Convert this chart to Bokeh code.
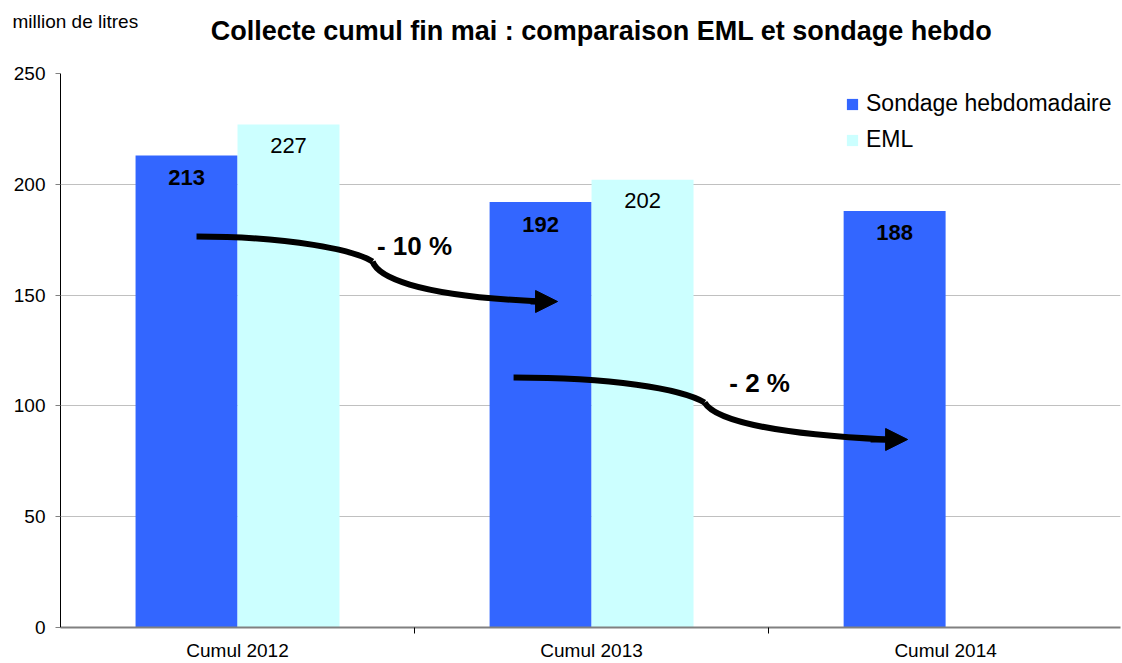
from bokeh.plotting import figure
from bokeh.layouts import column
from bokeh.models import (Range1d, FixedTicker, Legend, LegendItem, Label, Arrow,
                          NormalHead, ColumnDataSource)
from bokeh.core.properties import value
from bokeh.embed import file_html
from bokeh.resources import INLINE

# ---------------- data ----------------
categories = ["Cumul 2012", "Cumul 2013", "Cumul 2014"]
sondage = [213, 192, 188]
eml = [227, 202, None]
y_ticks = [0, 50, 100, 150, 200, 250]
title_text = "Collecte cumul fin mai : comparaison EML et sondage hebdo"
unit_text = "million de litres"
trend_labels = ["- 10 %", "- 2 %"]

# annotation arrows (data coordinates): two cubic beziers + arrow head each
arrow_b1 = [  # x0, y0, cx0, cy0, cx1, cy1, x1, y1
    (0.3842, 176.44, 0.6497, 176.44, 0.8333, 170.13, 0.8814, 165.16),
    (1.2797, 112.82, 1.5537, 112.82, 1.7514, 107.85, 1.8192, 101.53),
]
arrow_b2 = [
    (0.8814, 165.16, 0.8955, 158.84, 0.9887, 149.82, 1.3559, 147.11),
    (1.8192, 101.53, 1.8390, 96.12, 1.9350, 88.00, 2.3305, 84.84),
]
arrow_heads = [  # x_start, y_start, x_end, y_end
    (1.3277, 147.11, 1.4040, 147.11),
    (2.2881, 84.84, 2.3927, 84.84),
]
trend_pos = [(1.000, 172.2), (1.9746, 110.3)]

FONT = "Liberation Sans"
BLUE = "#3366FF"
CYAN = "#CCFFFF"
W = 1122
HEAD_H = 63
MAIN_H = 600

# ---------------- header (titles) ----------------
h = figure(width=W, height=HEAD_H, x_range=Range1d(0, W), y_range=Range1d(HEAD_H, 0),
           x_axis_type=None, y_axis_type=None, output_backend="svg",
           toolbar_location=None, min_border=0)
h.frame_align = False
h.outline_line_color = None
h.xgrid.grid_line_color = None
h.ygrid.grid_line_color = None
h.add_layout(Label(x=601, y=30, text=title_text, text_align="center",
                   text_baseline="middle", text_font=FONT, text_font_size="27px",
                   text_font_style="bold", text_color="black"))
h.add_layout(Label(x=12, y=21, text=unit_text, text_align="left",
                   text_baseline="middle", text_font=FONT, text_font_size="19px",
                   text_color="black"))

# ---------------- main chart ----------------
p = figure(width=W, height=MAIN_H, x_range=Range1d(0, 2.994), y_range=Range1d(0, 250),
           output_backend="svg", toolbar_location=None,
           min_border_left=60, min_border_right=2, min_border_top=10, min_border_bottom=36)
p.frame_align = False
p.outline_line_color = None
p.background_fill_color = "white"

bw = 0.288
off = 0.144
xs = [i + 0.5 for i in range(len(categories))]

src_s = ColumnDataSource(dict(x=[x - off for x in xs], top=sondage,
                              lab=[str(v) for v in sondage]))
e_idx = [i for i, v in enumerate(eml) if v is not None]
src_e = ColumnDataSource(dict(x=[xs[i] + off for i in e_idx], top=[eml[i] for i in e_idx],
                              lab=[str(eml[i]) for i in e_idx]))

r1 = p.vbar(x="x", top="top", width=bw, source=src_s, fill_color=BLUE, line_color=None)
r2 = p.vbar(x="x", top="top", width=bw, source=src_e, fill_color=CYAN, line_color=None)

p.text(x="x", y="top", text="lab", source=src_s, y_offset=22, text_align="center",
       text_baseline="middle", text_font=value(FONT), text_font_size="22px",
       text_font_style="bold", text_color="black")
p.text(x="x", y="top", text="lab", source=src_e, y_offset=21, text_align="center",
       text_baseline="middle", text_font=value(FONT), text_font_size="22px",
       text_color="black")

# axes
xa = p.xaxis[0]
xa.ticker = FixedTicker(ticks=xs, minor_ticks=[1, 2])
xa.major_label_overrides = {x: c for x, c in zip(xs, categories)}
xa.major_tick_out = 0
xa.major_tick_in = 0
xa.minor_tick_out = 6
xa.minor_tick_in = 0
xa.minor_tick_line_color = "black"
xa.axis_line_color = "#808080"
xa.axis_line_width = 2
xa.major_label_text_font = FONT
xa.major_label_text_font_size = "19px"
xa.major_label_text_color = "black"
xa.major_label_standoff = 6

ya = p.yaxis[0]
ya.ticker = FixedTicker(ticks=y_ticks, minor_ticks=[])
ya.major_tick_out = 5
ya.major_tick_in = 0
ya.major_tick_line_color = "#808080"
ya.axis_line_color = "black"
ya.major_label_text_font = FONT
ya.major_label_text_font_size = "19px"
ya.major_label_text_color = "black"
ya.major_label_standoff = 10

p.xgrid.grid_line_color = None
p.ygrid.grid_line_color = "#c0c0c0"
p.ygrid.grid_line_width = 1

# arrows
for b in (arrow_b1, arrow_b2):
    p.bezier(x0=[a[0] for a in b], y0=[a[1] for a in b],
             cx0=[a[2] for a in b], cy0=[a[3] for a in b],
             cx1=[a[4] for a in b], cy1=[a[5] for a in b],
             x1=[a[6] for a in b], y1=[a[7] for a in b],
             line_color="black", line_width=6)
for (xs0, ys0, xe, ye) in arrow_heads:
    p.add_layout(Arrow(x_start=xs0, y_start=ys0, x_end=xe, y_end=ye, line_width=6,
                       line_color="black",
                       end=NormalHead(size=22, fill_color="black", line_color="black",
                                      line_width=1)))

for (tx, ty), t in zip(trend_pos, trend_labels):
    p.add_layout(Label(x=tx, y=ty, text=t, text_align="center", text_baseline="middle",
                       text_font=FONT, text_font_size="26px", text_font_style="bold",
                       text_color="black"))

legend = Legend(items=[LegendItem(label="Sondage hebdomadaire", renderers=[r1]),
                       LegendItem(label="EML", renderers=[r2])],
                location=(785, 474))
legend.label_text_font = FONT
legend.label_text_font_size = "23px"
legend.label_text_color = "black"
legend.glyph_width = 14
legend.glyph_height = 14
legend.label_standoff = 7
legend.padding = 4
legend.spacing = 9
legend.border_line_color = None
legend.background_fill_alpha = 0
p.add_layout(legend)

page = column(h, p, spacing=0)
open("out.html", "w").write(file_html(page, INLINE))
